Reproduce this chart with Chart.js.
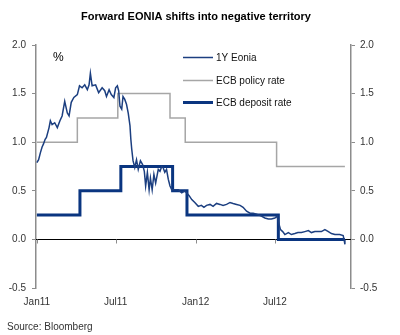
<!DOCTYPE html>
<html>
<head>
<meta charset="utf-8">
<script src="https://cdn.jsdelivr.net/npm/chart.js@4/dist/chart.umd.min.js"></script>
<style>
html,body{margin:0;padding:0;background:#fff;}
#wrap{width:400px;height:335px;position:relative;}
</style>
</head>
<body>
<div id="wrap"><canvas id="c" width="400" height="335"></canvas></div>
<script>
// Days counted from 1 Jan 2011
const xTickDays = [0, 181, 365, 547];
const xTickLabels = ['Jan11', 'Jul11', 'Jan12', 'Jul12'];
const yTicks = [-0.5, 0, 0.5, 1, 1.5, 2];

const seriesNames = ['1Y Eonia', 'ECB policy rate', 'ECB deposit rate'];

const eoniaDays = [0,4,8,12,15,19,22,28,31,35,41,47,53,58,64,70,74,79,85,93,98,104,110,116,120,123,127,135,142,150,156,160,166,171,177,181,185,188,191,195,198,202,206,210,214,216,218,221,225,229,233,238,243,247,250,254,258,261,265,269,273,279,283,287,290,294,298,302,306,310,317,325,333,340,344,350,356,363,371,378,384,390,398,405,413,421,428,436,444,451,459,467,474,482,490,497,505,516,524,532,539,547,552,557,560,565,570,578,585,593,600,608,616,624,631,639,647,654,662,670,677,685,696,704,706,708];
const eoniaValues = [0.79,0.82,0.89,0.95,0.98,1.03,1.05,1.15,1.22,1.18,1.20,1.15,1.22,1.27,1.42,1.30,1.27,1.41,1.46,1.49,1.58,1.56,1.59,1.54,1.59,1.71,1.58,1.59,1.51,1.56,1.53,1.47,1.54,1.49,1.46,1.56,1.58,1.53,1.37,1.34,1.47,1.44,1.39,1.30,1.17,1.03,0.93,0.81,0.74,0.82,0.72,0.81,0.77,0.70,0.55,0.69,0.51,0.63,0.51,0.67,0.58,0.72,0.70,0.75,0.74,0.69,0.72,0.62,0.55,0.51,0.51,0.51,0.48,0.50,0.48,0.45,0.41,0.38,0.34,0.35,0.33,0.35,0.36,0.34,0.37,0.36,0.35,0.36,0.38,0.37,0.36,0.35,0.33,0.29,0.27,0.27,0.26,0.24,0.22,0.21,0.21,0.22,0.24,0.15,0.10,0.08,0.05,0.07,0.05,0.06,0.07,0.07,0.08,0.09,0.07,0.08,0.08,0.08,0.10,0.08,0.06,0.05,0.05,0.04,0.00,-0.05];

const policyDays = [0, 93, 186, 306, 341, 551, 708];
const policyValues = [1.0, 1.25, 1.5, 1.25, 1.0, 0.75, 0.75];

const depositDays = [0, 99, 193, 312, 345, 555, 708];
const depositValues = [0.25, 0.5, 0.75, 0.5, 0.25, 0.0, 0.0];

const xMin = -2, xMax = 722;

const toPts = (d, v) => d.map((x, i) => ({x: x, y: v[i]}));

const FONT = '"Liberation Sans", Arial, sans-serif';
const AXIS_GREY = '#8c8c8c';

const extrasPlugin = {
  id: 'extras',
  beforeDatasetsDraw(chart) {
    const ctx = chart.ctx, xs = chart.scales.x, ys = chart.scales.y;
    const y0 = Math.round(ys.getPixelForValue(0)) + 0.5;
    ctx.save();
    ctx.strokeStyle = '#000';
    ctx.lineWidth = 1;
    ctx.beginPath();
    ctx.moveTo(chart.chartArea.left, y0);
    ctx.lineTo(chart.chartArea.right, y0);
    ctx.stroke();
    ctx.strokeStyle = AXIS_GREY;
    xTickDays.forEach(d => {
      const px = Math.round(xs.getPixelForValue(d)) + 0.5;
      ctx.beginPath();
      ctx.moveTo(px, y0);
      ctx.lineTo(px, y0 + 4);
      ctx.stroke();
    });
    ctx.restore();
  },
  afterDraw(chart) {
    const ctx = chart.ctx;
    ctx.save();
    // title
    ctx.fillStyle = '#000';
    ctx.font = 'bold 11px ' + FONT;
    ctx.textAlign = 'center';
    ctx.textBaseline = 'middle';
    ctx.fillText('Forward EONIA shifts into negative territory', 196, 17);
    // unit
    ctx.textAlign = 'left';
    ctx.font = '12px ' + FONT;
    ctx.fillText('%', 53, 58);
    // legend
    const ly = [57, 80, 102];
    ctx.font = '10px ' + FONT;
    chart.data.datasets.forEach((ds, i) => {
      ctx.strokeStyle = ds.borderColor;
      ctx.lineWidth = ds.borderWidth;
      ctx.beginPath();
      ctx.moveTo(183, ly[i] + 0.5);
      ctx.lineTo(213, ly[i] + 0.5);
      ctx.stroke();
      ctx.fillStyle = '#111';
      ctx.fillText(ds.label, 216, ly[i] + 1);
    });
    // source
    ctx.fillStyle = '#333';
    ctx.fillText('Source: Bloomberg', 7, 327);
    ctx.restore();
  }
};

const yAxisCommon = (pos, width, pad) => ({
  type: 'linear',
  position: pos,
  display: true,
  min: -0.5, max: 2,
  afterBuildTicks: s => { s.ticks = yTicks.map(v => ({value: v})); },
  afterFit: s => { s.width = width; },
  border: {display: true, color: AXIS_GREY, width: 1.5},
  grid: {drawOnChartArea: false, drawTicks: true, tickLength: 4, color: AXIS_GREY, lineWidth: 1},
  ticks: {
    padding: pad,
    color: '#333',
    font: {family: FONT, size: 10},
    callback: v => v.toFixed(1)
  }
});

new Chart(document.getElementById('c'), {
  type: 'line',
  data: {
    datasets: [
      {label: seriesNames[0], data: toPts(eoniaDays, eoniaValues), borderColor: '#1c3f80', borderWidth: 1.5, pointRadius: 0, tension: 0, yAxisID: 'y'},
      {label: seriesNames[1], data: toPts(policyDays, policyValues), borderColor: '#a6a6a6', borderWidth: 1.5, pointRadius: 0, stepped: true, yAxisID: 'y'},
      {label: seriesNames[2], data: toPts(depositDays, depositValues), borderColor: '#0a3580', borderWidth: 3, pointRadius: 0, stepped: true, yAxisID: 'y'}
    ]
  },
  options: {
    responsive: false,
    animation: false,
    parsing: true,
    layout: {padding: {top: 45, left: 0, right: 0, bottom: 0}},
    plugins: {legend: {display: false}, title: {display: false}, tooltip: {enabled: false}},
    scales: {
      x: {
        type: 'linear',
        min: xMin, max: xMax,
        afterBuildTicks: s => { s.ticks = xTickDays.map(v => ({value: v})); },
        afterFit: s => { s.height = 47; },
        border: {display: false},
        grid: {display: false, drawTicks: false},
        ticks: {
          padding: 8,
          maxRotation: 0,
          autoSkip: false,
          color: '#333',
          font: {family: FONT, size: 10},
          callback: v => { const i = xTickDays.indexOf(v); return i >= 0 ? xTickLabels[i] : ''; }
        }
      },
      y: yAxisCommon('left', 36, 6),
      y2: yAxisCommon('right', 49, 5)
    }
  },
  plugins: [extrasPlugin]
});
</script>
</body>
</html>
